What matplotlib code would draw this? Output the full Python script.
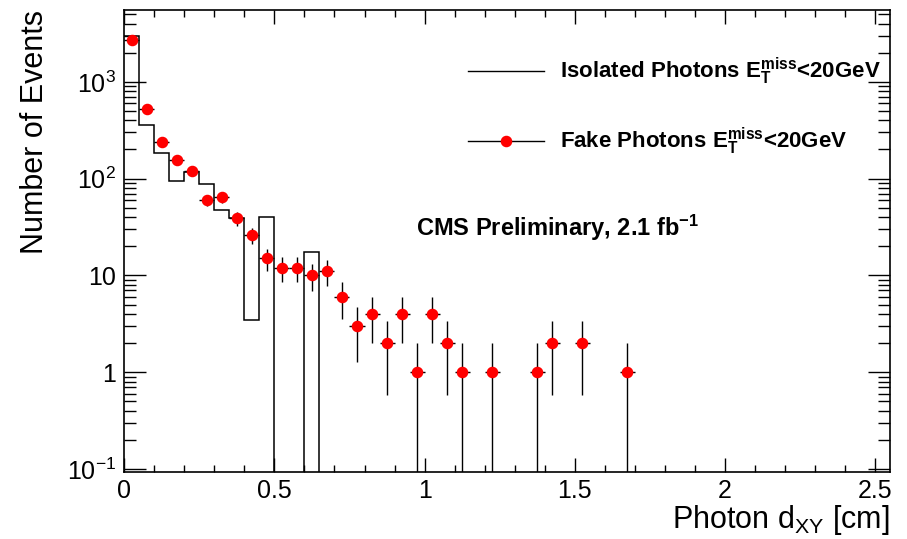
import numpy as np
import matplotlib
matplotlib.use('Agg')
import matplotlib.pyplot as plt
from matplotlib.lines import Line2D
from matplotlib.ticker import FixedLocator, FixedFormatter, LogLocator, NullFormatter, MultipleLocator

plt.rcParams['font.family'] = 'Liberation Sans'
plt.rcParams['mathtext.fontset'] = 'custom'
plt.rcParams['mathtext.rm'] = 'Liberation Sans'
plt.rcParams['mathtext.it'] = 'Liberation Sans:italic'
plt.rcParams['mathtext.bf'] = 'Liberation Sans:bold'

BIN_WIDTH = 0.05

# isolated photons histogram, bins starting at 0
iso_edges = np.arange(0, 0.70001, BIN_WIDTH)
iso_counts = [3000, 355, 183, 94, 116, 89, 47, 39, 3.5, 40, 0, 0, 17.3, 0]

# fake photons, bin centres and counts
fake_x = [0.025, 0.075, 0.125, 0.175, 0.225, 0.275, 0.325, 0.375, 0.425, 0.475,
          0.525, 0.575, 0.625, 0.675, 0.725, 0.775, 0.825, 0.875, 0.925, 0.975,
          1.025, 1.075, 1.125, 1.225, 1.375, 1.425, 1.525, 1.675]
fake_counts = [2700, 520, 237, 157, 119, 60, 64, 39, 26, 15,
               12, 12, 10, 11, 6, 3, 4, 2, 4, 1,
               4, 2, 1, 1, 1, 2, 2, 1]

fig = plt.figure(figsize=(9.07, 5.39), dpi=100)
ax = fig.add_axes([0.137, 0.1243, 0.9813 - 0.137, 0.9814 - 0.1243])

# histogram outline (zero bins drop below the axis)
iso_plot = np.where(np.array(iso_counts) > 0, iso_counts, 1e-3)
ax.stairs(iso_plot, iso_edges, baseline=None, color='black', lw=1.1)

# fake photons with poisson errors
n = np.array(fake_counts, dtype=float)
err = np.sqrt(n)
lo = np.minimum(err, n - 1e-3)
ax.errorbar(fake_x, n, xerr=BIN_WIDTH / 2, yerr=[lo, err], fmt='none',
            ecolor='black', elinewidth=1.0, capsize=0)
ax.plot(fake_x, n, 'o', color='red', markersize=7.3, mec='red')

ax.set_yscale('log')
ax.set_xlim(0, 2.55)
ax.set_ylim(0.093, 5520)

ax.xaxis.set_major_locator(MultipleLocator(0.5))
ax.xaxis.set_minor_locator(MultipleLocator(0.1))
ax.xaxis.set_major_formatter(plt.FuncFormatter(lambda v, p: f'{v:g}'))

ax.yaxis.set_major_locator(FixedLocator([0.1, 1, 10, 100, 1000]))
ax.yaxis.set_major_formatter(FixedFormatter([r'$10^{-1}$', '1', '10', r'$10^{2}$', r'$10^{3}$']))
ax.yaxis.set_minor_locator(LogLocator(base=10, subs=np.arange(2, 10)))
ax.yaxis.set_minor_formatter(NullFormatter())

ax.tick_params(which='both', direction='in', top=True, right=True, labelsize=18, width=1)
ax.tick_params(axis='x', which='major', length=10, pad=5)
ax.tick_params(axis='x', which='minor', length=5)
ax.tick_params(axis='y', which='major', length=16, pad=6)
ax.tick_params(axis='y', which='minor', length=8.5)
for s in ax.spines.values():
    s.set_linewidth(1.2)

ax.set_xlabel(r'Photon d$_{\mathrm{XY}}$ [cm]', fontsize=22, loc='right', labelpad=0)
ax.set_ylabel('Number of Events', fontsize=22, loc='top', labelpad=12)

handles = [Line2D([], [], color='black', lw=1),
           Line2D([], [], color='black', lw=1, marker='o', mfc='red', mec='red', markersize=7.3)]
labels = [r'Isolated Photons $\mathbf{E_{T}^{miss}}$<20GeV',
          r'Fake Photons $\mathbf{E_{T}^{miss}}$<20GeV']
leg = ax.legend(handles, labels, loc='upper left', bbox_to_anchor=(468 / 907, 1 - 56 / 539),
                bbox_transform=fig.transFigure, frameon=False, handlelength=3.4,
                handletextpad=0.75, labelspacing=1.75, borderpad=0, borderaxespad=0,
                prop={'weight': 'bold', 'size': 16})

fig.text(558 / 907, 1 - 228 / 539, r'CMS Preliminary, 2.1 fb$^{\mathbf{-1}}$',
         ha='center', va='center', fontsize=17, fontweight='bold')

fig.savefig('out.png', dpi=100)
